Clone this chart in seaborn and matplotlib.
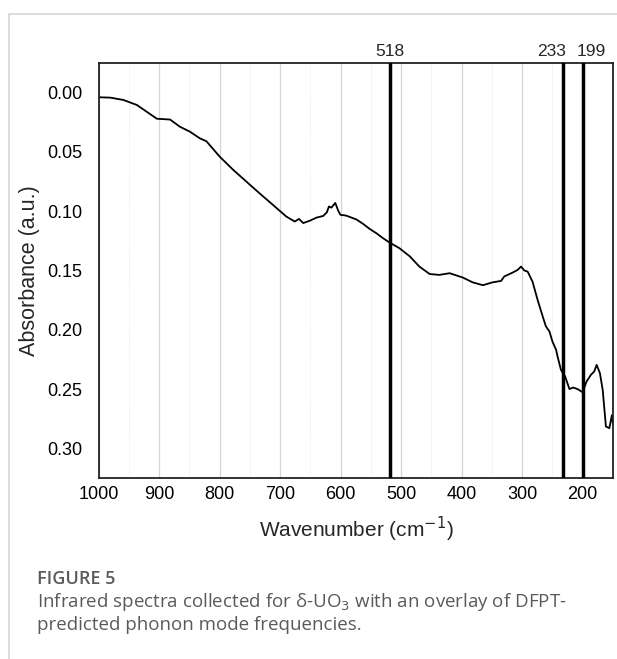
import matplotlib
matplotlib.use("Agg")
import matplotlib.pyplot as plt
import matplotlib.lines as mlines
import seaborn as sns
import pandas as pd
from matplotlib.ticker import MultipleLocator, FormatStrFormatter

# Spectrum (wavenumber in cm-1, absorbance in a.u.)
wavenumber = [1000, 981, 959, 937, 921, 904, 882, 866, 849, 833, 822, 800, 778, 756,
              734, 712, 690, 676, 669, 662, 651, 640, 629, 623, 619.5, 615.5, 609,
              604.6, 600.7, 591, 574, 563, 552, 541, 530, 519, 503, 486, 470, 453,
              437, 420, 398, 382, 365, 349, 335, 329.6, 316, 307.6, 302, 296.5, 291,
              283, 274.6, 266, 261, 255, 250, 244, 241.6, 236, 229, 222, 215.7, 208.6,
              200.3, 193.7, 186.5, 181, 177, 171.6, 167, 161.7, 156, 151.8, 150]
absorbance = [0.0039, 0.0042, 0.0062, 0.0104, 0.016, 0.022, 0.0227, 0.0287, 0.033,
              0.0385, 0.041, 0.054, 0.065, 0.075, 0.085, 0.0947, 0.1045, 0.1087,
              0.1065, 0.110, 0.108, 0.1054, 0.104, 0.101, 0.096, 0.097, 0.093, 0.099,
              0.103, 0.1037, 0.107, 0.1107, 0.1150, 0.1186, 0.1228, 0.1265, 0.1312,
              0.138, 0.1467, 0.153, 0.1537, 0.1523, 0.156, 0.160, 0.1624, 0.160,
              0.1588, 0.155, 0.1518, 0.1495, 0.1467, 0.150, 0.151, 0.1594, 0.1748,
              0.189, 0.197, 0.2015, 0.210, 0.217, 0.2226, 0.2338, 0.2395, 0.250,
              0.2487, 0.250, 0.2527, 0.2437, 0.238, 0.2352, 0.2296, 0.2366, 0.2507,
              0.2816, 0.283, 0.272, 0.280]

# DFPT-predicted phonon modes
modes = [518, 233, 199]
mode_label_shift = [0, -8, 6]   # points, keeps the two close labels apart

sns.set_style("white")
plt.rcParams["font.family"] = ["Liberation Sans", "DejaVu Sans"]

df = pd.DataFrame({"wavenumber": wavenumber, "absorbance": absorbance})

fig = plt.figure(figsize=(6.17, 6.59), dpi=100)
ax = fig.add_axes([0.160, 0.2747, 0.8335, 0.6297])

sns.lineplot(data=df, x="wavenumber", y="absorbance", color="black",
             linewidth=1.3, sort=False, ax=ax)

for m, dx in zip(modes, mode_label_shift):
    ax.axvline(m, color="black", linewidth=2.5, zorder=3)
    ax.annotate(str(m), (m, 1.0), xycoords=ax.get_xaxis_transform(),
                xytext=(dx, 3), textcoords="offset points",
                ha="center", va="bottom", fontsize=12.5)

ax.set_xlim(1000, 150)
ax.set_ylim(0.325, -0.025)
ax.xaxis.set_major_locator(MultipleLocator(100))
ax.xaxis.set_minor_locator(MultipleLocator(50))
ax.yaxis.set_major_locator(MultipleLocator(0.05))
ax.yaxis.set_major_formatter(FormatStrFormatter("%.2f"))

# light vertical grid
ax.grid(axis="x", which="major", color="#d4d4d4", linewidth=0.9)
ax.grid(axis="x", which="minor", color="#e4e4e4", linewidth=0.7, linestyle=":")
ax.set_axisbelow(True)

ax.tick_params(axis="both", which="major", direction="in", length=5, width=1.2,
               labelsize=13, colors="black", pad=6)
ax.tick_params(axis="y", which="major", pad=12)
ax.tick_params(axis="x", which="minor", length=0)
for s in ax.spines.values():
    s.set_color("#222222")
    s.set_linewidth(1.3)

ax.set_xlabel("Wavenumber (cm$^{-1}$)", fontsize=15, labelpad=8)
ax.set_ylabel("Absorbance (a.u.)", fontsize=15.5, labelpad=5)

# frame around the figure panel
fig.add_artist(mlines.Line2D([9 / 617, 1], [1 - 14 / 659, 1 - 14 / 659],
                             color="#d6d6d6", linewidth=1.2))
fig.add_artist(mlines.Line2D([9 / 617, 9 / 617], [1 - 14 / 659, 0],
                             color="#d6d6d6", linewidth=1.2))

# caption
cap = ["Open Sans", "DejaVu Sans"]
fig.text(37 / 617, 1 - 579 / 659, "FIGURE 5", fontsize=13, color="#5a5a5a",
         fontweight="semibold", va="center", family=cap)
fig.text(37 / 617, 1 - 602 / 659,
         "Infrared spectra collected for δ-UO$_3$ with an overlay of DFPT-",
         fontsize=13.5, color="#5a5a5a", va="center", family=cap)
fig.text(37 / 617, 1 - 625 / 659, "predicted phonon mode frequencies.",
         fontsize=13.5, color="#5a5a5a", va="center", family=cap)

plt.savefig("out.png", dpi=100)
